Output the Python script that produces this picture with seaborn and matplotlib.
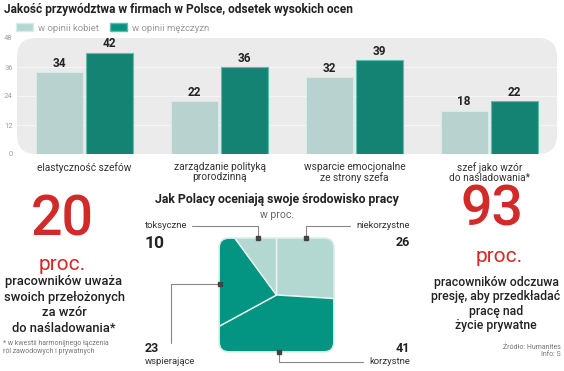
import matplotlib
matplotlib.use("Agg")
import matplotlib.pyplot as plt
from matplotlib.patches import FancyBboxPatch, Patch
from matplotlib.lines import Line2D
import seaborn as sns
import pandas as pd

# ---------------- data ----------------
categories = ["elastyczność szefów", "zarządzanie polityką\nprorodzinną",
              "wsparcie emocjonalne\nze strony szefa", "szef jako wzór\ndo naśladowania*"]
series_names = ["w opinii kobiet", "w opinii mężczyzn"]
women = [34, 22, 32, 18]
men = [42, 36, 39, 22]
y_ticks = [0, 12, 24, 36, 48]

env_labels = ["niekorzystne", "korzystne", "wspierające", "toksyczne"]
env_values = [26, 41, 23, 10]

big_left = "20"
big_right = "93"

LIGHT = "#b3d8d2"
DARK = "#039582"
RED = "#d22a28"
TXT = "#222222"

sns.set_theme(style="white")
plt.rcParams["font.family"] = ["Roboto", "DejaVu Sans"]

W, H = 564, 371
fig = plt.figure(figsize=(W / 100, H / 100), dpi=100)

def fx(px):
    return px / W

def fy(py):
    return 1 - py / H

# ---------------- bar chart ----------------
ax = fig.add_axes([fx(17), fy(154), fx(557) - fx(17), fy(38) - fy(154)])
df = pd.DataFrame({
    "cat": categories * 2,
    "val": women + men,
    "series": [series_names[0]] * 4 + [series_names[1]] * 4,
})
ax.set_facecolor("none")
bg = FancyBboxPatch((0, 0), 1, 1, boxstyle="round,pad=0,rounding_size=0.035",
                    transform=ax.transAxes, facecolor="#ebebeb", edgecolor="none",
                    zorder=0, mutation_aspect=4.6)
ax.add_patch(bg)
sns.barplot(data=df, x="cat", y="val", hue="series", palette=[LIGHT, DARK],
            width=0.75, gap=0.07, ax=ax, legend=False, zorder=3)
for cont, ec in zip(ax.containers, ["#d7ece8", "#5fbcae"]):
    for bar in cont:
        bar.set_edgecolor(ec)
        bar.set_linewidth(0.8)
    ax.bar_label(cont, padding=1.5, fontsize=8.5, fontweight="bold", color=TXT)
ax.set_ylim(0, 48)
ax.set_xlim(-0.5, 3.5)
ax.set_yticks(y_ticks)
ax.tick_params(axis="y", length=0, labelsize=5.5, labelcolor="#a0a0a0", pad=3)
ax.tick_params(axis="x", length=0, labelsize=7.3, labelcolor="#333333", pad=5.5)
for t in ax.get_xticklabels():
    t.set_linespacing(1.05)
ax.set_xlabel("")
ax.set_ylabel("")
for y in y_ticks[1:-1]:
    ax.axhline(y, color="#f6f6f6", lw=0.7, zorder=1)
for s in ax.spines.values():
    s.set_visible(False)

handles = [Patch(facecolor=LIGHT, edgecolor="#d7ece8"), Patch(facecolor=DARK, edgecolor="#5fbcae")]
fig.legend(handles, series_names, loc="center left", bbox_to_anchor=(fx(16), fy(28)),
           ncol=2, frameon=False, fontsize=6.8, handlelength=1.8, handleheight=0.9,
           handletextpad=0.5, columnspacing=1.2, labelcolor="#9a9a9a", borderaxespad=0,
           borderpad=0)

# ---------------- square pie ----------------
pax = fig.add_axes([fx(218), fy(353), fx(335) - fx(218), fy(237) - fy(353)])
wedges, _ = pax.pie(env_values, colors=[LIGHT, DARK, DARK, LIGHT], startangle=90,
                    counterclock=False, radius=2,
                    wedgeprops=dict(edgecolor="#e8f5f2", linewidth=1.0))
pax.set_aspect("auto")
pax.set_xlim(-1.02, 1.02)
pax.set_ylim(-1.02, 1.02)
pax.axis("off")
clip = FancyBboxPatch((-1, -1), 2, 2, boxstyle="round,pad=0,rounding_size=0.17",
                      transform=pax.transData, facecolor="none", edgecolor="#d4ebe6",
                      linewidth=1.2, zorder=5)
pax.add_patch(clip)
for w in wedges:
    w.set_clip_on(True)
    w.set_clip_path(clip)

# ---------------- overlay text ----------------
ov = fig.add_axes([0, 0, 1, 1])
ov.set_xlim(0, W)
ov.set_ylim(H, 0)
ov.axis("off")
ov.patch.set_alpha(0)

ov.text(4, 10, "Jakość przywództwa w firmach w Polsce, odsetek wysokich ocen",
        ha="left", va="center", fontsize=8.6, fontweight="bold", color=TXT)

# left block
ov.text(62, 220, big_left, ha="center", va="center", fontsize=40, fontweight="medium", color=RED)
ov.text(62, 264, "proc.", ha="center", va="center", fontsize=15, color=RED)
ov.text(64, 305, "pracowników uważa\nswoich przełożonych\nza wzór\ndo naśladowania*",
        ha="center", va="center", fontsize=9.3, fontweight="medium", color=TXT, linespacing=1.27)
ov.text(3, 347.5, "* w kwestii harmonijnego łączenia\nról zawodowych i prywatnych",
        ha="left", va="center", fontsize=5, color="#777777", linespacing=1.05)

# middle block
ov.text(277, 200, "Jak Polacy oceniają swoje środowisko pracy", ha="center", va="center",
        fontsize=8.8, fontweight="bold", color=TXT)
ov.text(277, 215, "w proc.", ha="center", va="center", fontsize=7.5, color="#666666")

lab_kw = dict(fontsize=6.8, color="#333333", va="center")
num_kw = dict(fontweight="bold", color=TXT, va="center")
ov.text(145, 226, env_labels[3], ha="left", **lab_kw)
ov.text(145, 243, str(env_values[3]), ha="left", fontsize=12.5, **num_kw)
ov.text(410, 226, env_labels[0], ha="right", **lab_kw)
ov.text(410, 243, str(env_values[0]), ha="right", fontsize=9, **num_kw)
ov.text(145, 348, str(env_values[2]), ha="left", fontsize=9, **num_kw)
ov.text(145, 362, env_labels[2], ha="left", **lab_kw)
ov.text(410, 348, str(env_values[1]), ha="right", fontsize=9, **num_kw)
ov.text(410, 362, env_labels[1], ha="right", **lab_kw)

lk = dict(color="#888888", lw=0.8)
leaders = [
    ([192, 258, 258], [226, 226, 238], (258, 238)),
    ([350, 306, 306], [226, 226, 238], (306, 238)),
    ([220, 171, 171], [284, 284, 343], (220, 284)),
    ([279, 279, 363], [352, 362, 362], (279, 352)),
]
for xs, ys, m in leaders:
    ov.add_line(Line2D(xs, ys, **lk))
    ov.plot([m[0]], [m[1]], marker="s", ms=3, color="#444444", mec="#444444", zorder=6)

# right block
ov.text(492, 210, big_right, ha="center", va="center", fontsize=40, fontweight="medium", color=RED)
ov.text(499, 257, "proc.", ha="center", va="center", fontsize=15, color=RED)
ov.text(496, 304, "pracowników odczuwa\npresję, aby przedkładać\npracę nad\nżycie prywatne",
        ha="center", va="center", fontsize=8.8, fontweight="medium", color=TXT, linespacing=1.12)
ov.text(561, 351, "Źródło: Humanites\nInfo: S", ha="right", va="center",
        fontsize=5, color="#777777", multialignment="right", linespacing=1.0)

fig.savefig("out.png", dpi=100, facecolor="white")
